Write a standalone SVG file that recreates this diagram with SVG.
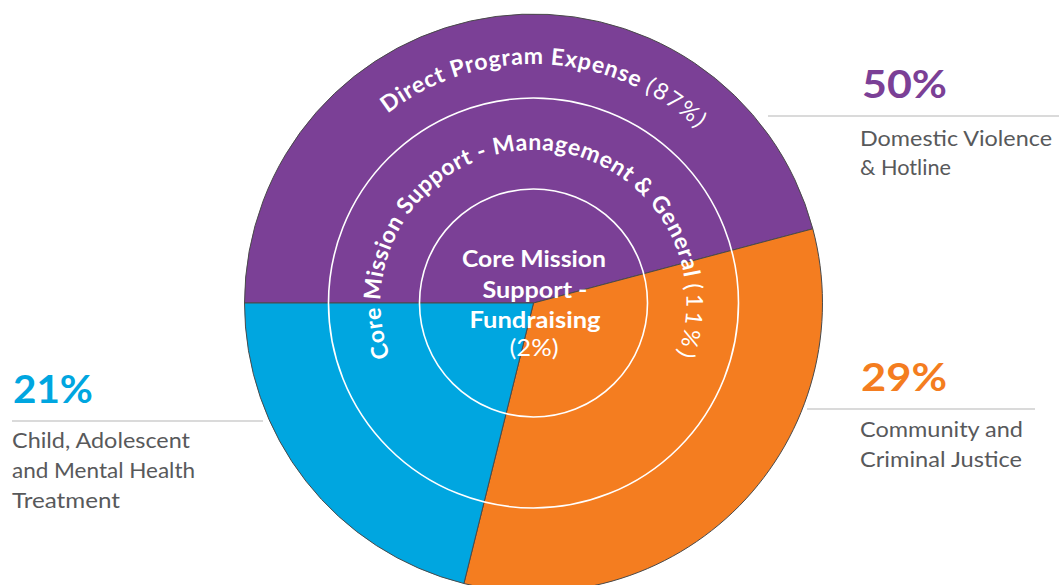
<svg xmlns="http://www.w3.org/2000/svg" xmlns:xlink="http://www.w3.org/1999/xlink" width="1059" height="585" viewBox="0 0 1059 585">
  <style>
    .sector { stroke: #4a4a4a; stroke-width: 1; }
    .ring { fill: none; stroke: #ffffff; stroke-width: 1.6; }
    .arc { font-family: Lato, "Open Sans", sans-serif; font-weight: 700; fill: #ffffff; }
    .center { font-family: Lato, "Open Sans", sans-serif; font-weight: 700; font-size: 23px; fill: #ffffff; text-anchor: middle; }
    .reg { font-weight: 400; }
    .pct { font-family: Lato, "Open Sans", sans-serif; font-weight: 700; font-size: 38px; }
    .lbl { font-family: Lato, "Open Sans", sans-serif; font-size: 21px; fill: #58595b; }
    .leader { stroke: #b5b5b5; stroke-width: 1.2; fill: none; }
  </style>
  <defs>
    <path id="outerArc" d="M 294.5 303 A 239 239 0 0 1 772.5 303"/>
    <path id="midArc" d="M 401 379.5 A 153 153 0 1 1 666 379.5"/>
  </defs>
  <rect width="1059" height="585" fill="#ffffff"/>

  <g id="pie">
    <g id="purple-sector">
      <path class="sector" fill="#7b4096" d="M 533.5 303 L 244.5 303 A 289 289 0 0 1 812.8 228.8 Z"/>
    </g>
    <g id="orange-sector">
      <path class="sector" fill="#f47d20" d="M 533.5 303 L 812.8 228.8 A 289 289 0 0 1 463.9 583.5 Z"/>
    </g>
    <g id="blue-sector">
      <path class="sector" fill="#00a6e0" d="M 533.5 303 L 463.9 583.5 A 289 289 0 0 1 244.5 303 Z"/>
    </g>
  </g>

  <g id="rings">
    <circle class="ring" cx="533.5" cy="303" r="205"/>
    <circle class="ring" cx="533.5" cy="303" r="114"/>
  </g>

  <g id="direct-program-expense">
    <text class="arc" font-size="23" letter-spacing="0.8"><textPath xlink:href="#outerArc" href="#outerArc" startOffset="388" text-anchor="middle">Direct Program Expense <tspan class="reg" letter-spacing="2">(87%)</tspan></textPath></text>
  </g>

  <g id="management-general">
    <text class="arc" font-size="23" letter-spacing="0.6"><textPath xlink:href="#midArc" href="#midArc" startOffset="321" text-anchor="middle">Core Mission Support - Management &amp; General <tspan class="reg" letter-spacing="3.5">(11%)</tspan></textPath></text>
  </g>

  <g id="fundraising">
    <text class="center" x="534" y="267" textLength="144" lengthAdjust="spacingAndGlyphs">Core Mission</text>
    <text class="center" x="535" y="298" textLength="105" lengthAdjust="spacingAndGlyphs">Support -</text>
    <text class="center" x="535" y="328" textLength="131" lengthAdjust="spacingAndGlyphs">Fundraising</text>
    <text class="center reg" x="534" y="356" textLength="49" lengthAdjust="spacingAndGlyphs">(2%)</text>
  </g>

  <g id="connectors">
    <line class="leader" x1="768" y1="116" x2="1059" y2="116"/>
    <line class="leader" x1="807" y1="409" x2="1035" y2="409"/>
    <line class="leader" x1="12" y1="421" x2="263" y2="421"/>
  </g>

  <g id="label-domestic">
    <text class="pct" x="862" y="98" fill="#7b4096" textLength="85" lengthAdjust="spacingAndGlyphs">50%</text>
    <text class="lbl" x="860" y="146" textLength="192" lengthAdjust="spacingAndGlyphs">Domestic Violence</text>
    <text class="lbl" x="860" y="175" textLength="91" lengthAdjust="spacingAndGlyphs">&amp; Hotline</text>
  </g>

  <g id="label-community">
    <text class="pct" x="861" y="391" fill="#f47d20" textLength="86" lengthAdjust="spacingAndGlyphs">29%</text>
    <text class="lbl" x="860" y="437" textLength="163" lengthAdjust="spacingAndGlyphs">Community and</text>
    <text class="lbl" x="860" y="467" textLength="162" lengthAdjust="spacingAndGlyphs">Criminal Justice</text>
  </g>

  <g id="label-child">
    <text class="pct" x="13" y="403" fill="#00a6e0" textLength="80" lengthAdjust="spacingAndGlyphs">21%</text>
    <text class="lbl" x="12" y="448" textLength="178" lengthAdjust="spacingAndGlyphs">Child, Adolescent</text>
    <text class="lbl" x="12" y="478" textLength="183" lengthAdjust="spacingAndGlyphs">and Mental Health</text>
    <text class="lbl" x="12" y="508" textLength="108" lengthAdjust="spacingAndGlyphs">Treatment</text>
  </g>
</svg>
